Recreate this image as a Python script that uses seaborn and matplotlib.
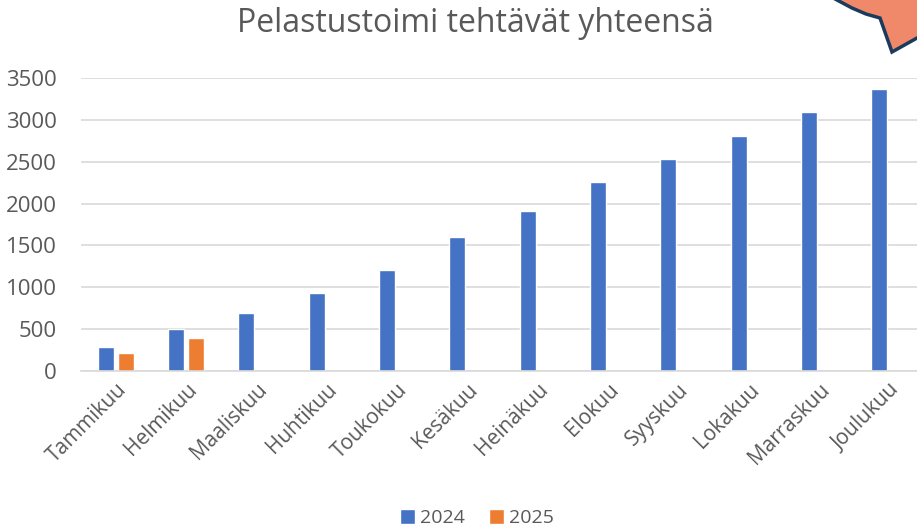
import pandas as pd
import matplotlib.pyplot as plt
import seaborn as sns
from matplotlib.patches import Polygon

# Data
months = ["Tammikuu", "Helmikuu", "Maaliskuu", "Huhtikuu", "Toukokuu", "Kesäkuu",
          "Heinäkuu", "Elokuu", "Syyskuu", "Lokakuu", "Marraskuu", "Joulukuu"]
values_2024 = [285, 500, 690, 930, 1205, 1600, 1910, 2255, 2530, 2805, 3090, 3365]
values_2025 = [210, 400, None, None, None, None, None, None, None, None, None, None]

df = pd.DataFrame({
    "kuukausi": months * 2,
    "vuosi": ["2024"] * 12 + ["2025"] * 12,
    "arvo": values_2024 + values_2025,
})

sns.set_style("white")
plt.rcParams["font.family"] = ["Open Sans", "DejaVu Sans"]

fig = plt.figure(figsize=(9.17, 5.30), dpi=100)
ax = fig.add_axes([0.088, 0.300, 0.920, 0.553])

sns.barplot(data=df, x="kuukausi", y="arvo", hue="vuosi",
            palette={"2024": "#4472C4", "2025": "#ED7D31"}, saturation=1,
            width=0.57, gap=0.2, ax=ax, legend=True)

ax.set_ylim(0, 3500)
ax.set_xlim(-0.5, 11.5)
ax.set_yticks(range(0, 3501, 500))
ax.yaxis.grid(True, color="#D9D9D9", linewidth=1.2)
ax.set_axisbelow(True)
for s in ["top", "right", "left"]:
    ax.spines[s].set_visible(False)
ax.spines["bottom"].set_color("#D9D9D9")
ax.spines["bottom"].set_linewidth(1.2)
ax.tick_params(axis="both", length=0, colors="#595959")
ax.tick_params(axis="y", pad=17, labelsize=16)
ax.tick_params(axis="x", pad=6, labelsize=15)
plt.setp(ax.get_xticklabels(), rotation=45, ha="right", rotation_mode="anchor")
ax.set_xlabel("")
ax.set_ylabel("")

fig.text(0.518, 0.955, "Pelastustoimi tehtävät yhteensä", ha="center", va="center",
         fontsize=23, color="#595959")

handles, labels = ax.get_legend_handles_labels()
ax.get_legend().remove()
fig.legend(handles, labels, loc="center", bbox_to_anchor=(0.52, 0.022), ncol=2,
           frameon=False, fontsize=14, handlelength=0.8, handleheight=0.8,
           handletextpad=0.25, columnspacing=1.2, labelcolor="#595959")

# callout shape peeking in at top right corner
W, H = 917, 530
pts = [(815, -12), (837, 0), (852, 8), (866, 14), (880, 18), (892, 52),
       (917, 38), (935, 28), (935, -12)]
fig.patches.append(Polygon([(x / W, 1 - y / H) for x, y in pts], closed=True,
                           transform=fig.transFigure, facecolor="#F0896A",
                           edgecolor="#1B3A5C", linewidth=2.5))

fig.savefig("out.png", dpi=100)
